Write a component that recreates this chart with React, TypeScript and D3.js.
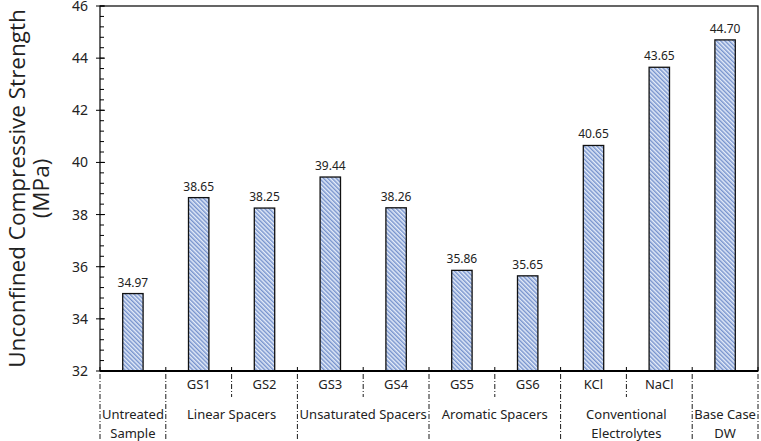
import * as d3 from 'd3'

const categories = ['Untreated', 'GS1', 'GS2', 'GS3', 'GS4', 'GS5', 'GS6', 'KCl', 'NaCl', 'DW']
const strengths = [34.97, 38.65, 38.25, 39.44, 38.26, 35.86, 35.65, 40.65, 43.65, 44.7]
const showCategoryLabel = [false, true, true, true, true, true, true, true, true, false]

const groupNames = [['Untreated', 'Sample'], ['Linear Spacers'], ['Unsaturated Spacers'], ['Aromatic Spacers'], ['Conventional', 'Electrolytes'], ['Base Case', 'DW']]
const groupStart = [0, 1, 3, 5, 7, 9]
const groupSize = [1, 2, 2, 2, 2, 1]

const yTicks = [32, 34, 36, 38, 40, 42, 44, 46]

const W = 761
const H = 441
const left = 100
const right = 758
const top = 6
const bottom = 371

const tickFont = '"Noto Sans", "DejaVu Sans", sans-serif'

export default function App() {
  const x = d3.scaleBand<string>().domain(categories).range([left, right]).paddingInner(0.69).paddingOuter(0.345)
  const step = x.step()
  const edge = (i: number) => left + i * step
  const y = d3.scaleLinear().domain([32, 46]).range([bottom, top])
  const minor = d3.range(32, 46.001, 0.4)

  // boundaries between categories; full ones separate groups
  const boundaries = d3.range(0, categories.length + 1).map(i => ({
    i,
    full: i === 0 || i === categories.length || groupStart.includes(i),
  }))

  return (
    <div>
      <style>{'body{margin:0}'}</style>
      <svg width={W} height={H} style={{ display: 'block', background: '#fff' }}>
        <defs>
          <pattern id="hatch" width="3" height="3" patternUnits="userSpaceOnUse" patternTransform="rotate(-45)">
            <rect width="3" height="3" fill="#e4ecf9" />
            <line x1="0.8" y1="0" x2="0.8" y2="3" stroke="#5275bf" strokeWidth="1.1" />
          </pattern>
        </defs>

        {/* frame */}
        <rect x={left} y={top} width={right - left} height={bottom - top} fill="none" stroke="#000" strokeWidth={1.2} />

        {/* bars */}
        {categories.map((c, i) => (
          <g key={c}>
            <rect x={x(c)} y={y(strengths[i])} width={x.bandwidth()} height={bottom - y(strengths[i])}
              fill="url(#hatch)" stroke="#111" strokeWidth={1.3} />
            <text x={x(c)! + x.bandwidth() / 2} y={y(strengths[i]) - 7} textAnchor="middle"
              fontFamily={tickFont} fontSize={12} fill="#222">{strengths[i].toFixed(2)}</text>
          </g>
        ))}

        {/* y axis ticks */}
        {minor.map(v => (
          <line key={'m' + v} x1={left} x2={left + 4} y1={y(v)} y2={y(v)} stroke="#000" strokeWidth={1} />
        ))}
        {yTicks.map(v => (
          <g key={'t' + v}>
            <line x1={left - 4} x2={left + 5} y1={y(v)} y2={y(v)} stroke="#000" strokeWidth={1} />
            <text x={left - 12} y={y(v) + 5} textAnchor="end" fontFamily={tickFont} fontSize={14} fill="#222">{v}</text>
          </g>
        ))}

        {/* x axis */}
        <line x1={left} x2={right} y1={bottom} y2={bottom} stroke="#000" strokeWidth={2} />
        {boundaries.map(b => (
          <g key={'b' + b.i}>
            <line x1={edge(b.i)} x2={edge(b.i)} y1={bottom} y2={bottom - 4} stroke="#000" strokeWidth={1} />
            <line x1={edge(b.i)} x2={edge(b.i)} y1={bottom + 3} y2={b.full ? H : 397}
              stroke="#000" strokeWidth={0.9} strokeDasharray="5,2,1,2" />
          </g>
        ))}

        {/* category labels */}
        {categories.map((c, i) => showCategoryLabel[i] ? (
          <text key={'c' + c} x={x(c)! + x.bandwidth() / 2} y={389} textAnchor="middle"
            fontFamily={tickFont} fontSize={13} fill="#222">{c}</text>
        ) : null)}

        {/* group labels */}
        {groupNames.map((g, gi) => {
          const cx = edge(groupStart[gi]) + (groupSize[gi] * step) / 2
          return g.map((line, li) => (
            <text key={'g' + gi + li} x={cx} y={419 + li * 19} textAnchor="middle"
              fontFamily={tickFont} fontSize={13} fill="#222">{line}</text>
          ))
        })}

        {/* y title */}
        <g transform={`translate(0, ${(top + bottom) / 2}) rotate(-90)`}>
          <text x={0} y={25} textAnchor="middle" fontFamily='"Open Sans", sans-serif' fontSize={22.5} fill="#222">Unconfined Compressive Strength</text>
          <text x={0} y={49} textAnchor="middle" fontFamily='"Open Sans", sans-serif' fontSize={22.5} fill="#222">(MPa)</text>
        </g>
      </svg>
    </div>
  )
}
